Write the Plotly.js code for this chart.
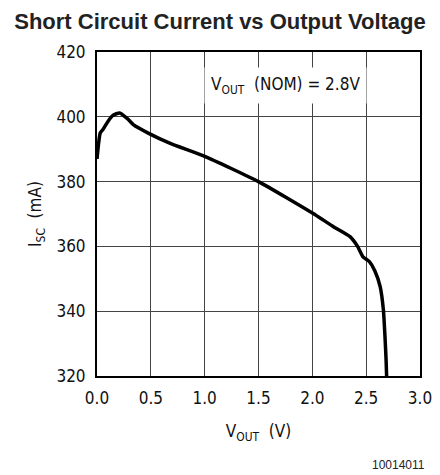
<!DOCTYPE html>
<html>
<head>
<meta charset="utf-8">
<script src="https://cdn.plot.ly/plotly-3.0.1.min.js"></script>
<style>
html,body{margin:0;padding:0;background:#fff;}
#chart{width:440px;height:475px;}
</style>
</head>
<body>
<div id="chart"></div>
<script>
const vout = [0, 0.03, 0.06, 0.1, 0.15, 0.21, 0.28, 0.34, 0.48, 0.68, 1.0, 1.5, 2.0, 2.2, 2.35, 2.42, 2.47, 2.53, 2.58, 2.63, 2.66, 2.675, 2.685, 2.69];
const isc = [387, 395, 396.3, 398.5, 400.5, 401.2, 399.5, 397.5, 394.9, 391.8, 387.8, 380, 370.3, 366, 363, 360, 356.8, 355.3, 352.5, 347.6, 340.4, 332, 325, 320];
const xTicks = [0, 0.5, 1.0, 1.5, 2.0, 2.5, 3.0];
const xTickLabels = ["0.0", "0.5", "1.0", "1.5", "2.0", "2.5", "3.0"];
const yTicks = [320, 340, 360, 380, 400, 420];
const yTickLabels = ["320", "340", "360", "380", "400", "420"];

const tickFont = {family: "DejaVu Sans Condensed, DejaVu Sans, sans-serif", size: 17, color: "#111"};

const trace = {
  x: vout, y: isc, type: "scatter", mode: "lines",
  line: {color: "#000", width: 3.5, shape: "spline", smoothing: 0.5},
  hoverinfo: "skip"
};

const layout = {
  width: 440, height: 475,
  margin: {l: 97, r: 20, t: 52, b: 99},
  paper_bgcolor: "#fff", plot_bgcolor: "#fff",
  showlegend: false,
  title: {
    text: "<b>Short Circuit Current vs Output Voltage</b>",
    font: {family: "Liberation Sans, Arial, sans-serif", size: 22, color: "#222"},
    x: 0.5, xanchor: "center", y: 0.955, yanchor: "middle"
  },
  xaxis: {
    range: [0, 3], tickvals: xTicks, ticktext: xTickLabels,
    showgrid: true, gridcolor: "#444", gridwidth: 1,
    zeroline: false, showline: true, linecolor: "#000", linewidth: 2, mirror: true,
    ticks: "", tickfont: tickFont, ticklabelstandoff: 6,
    title: {text: "V<sub>OUT</sub>  (V)", font: tickFont, standoff: 18}
  },
  yaxis: {
    range: [320, 420], tickvals: yTicks, ticktext: yTickLabels,
    showgrid: true, gridcolor: "#444", gridwidth: 1,
    zeroline: false, showline: true, linecolor: "#000", linewidth: 2, mirror: true,
    ticks: "", tickfont: tickFont, ticklabelstandoff: 6,
    title: {text: "I<sub>SC</sub>  (mA)", font: tickFont, standoff: 10}
  },
  annotations: [
    {
      x: 1.75, y: 409.8, xref: "x", yref: "y",
      text: "V<sub>OUT</sub>  (NOM) = 2.8V", showarrow: false,
      font: tickFont, bgcolor: "#fff", borderpad: 6
    },
    {
      x: 0, y: 0, xref: "paper", yref: "paper",
      text: "10014011", showarrow: false, xanchor: "right", yanchor: "middle",
      font: {family: "Liberation Sans, Arial, sans-serif", size: 12, color: "#222"}
    }
  ]
};
// Footnote placed in pixel space via paper coordinates
layout.annotations[1].x = (427 - 97) / (440 - 97 - 20);
layout.annotations[1].y = (475 - 99 - 465) / (475 - 52 - 99);

Plotly.newPlot("chart", [trace], layout, {displayModeBar: false, staticPlot: true});
</script>
</body>
</html>
